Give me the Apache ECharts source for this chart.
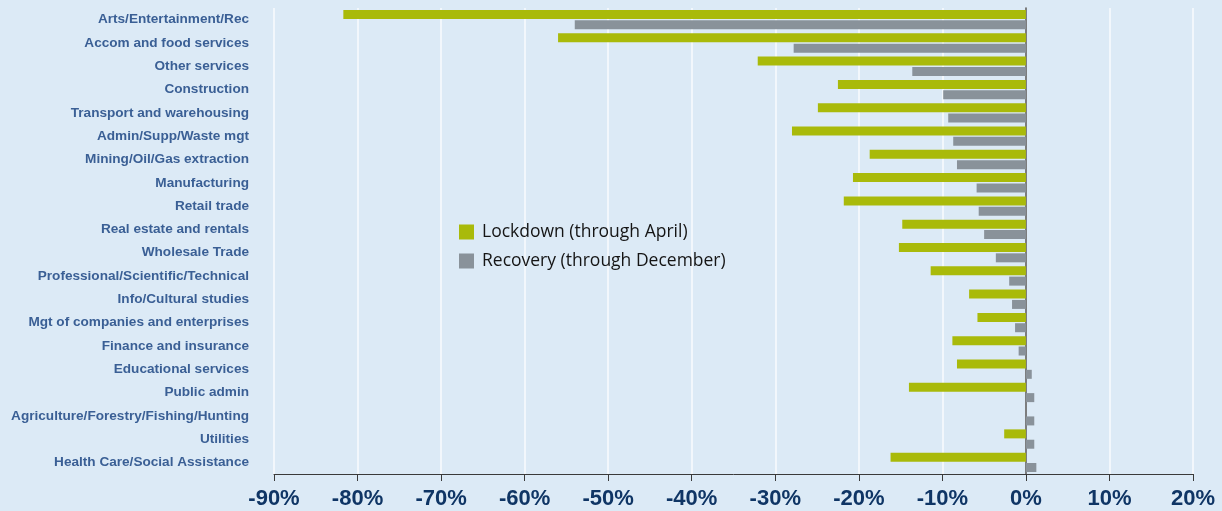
<!DOCTYPE html>
<html><head><meta charset="utf-8">
<script src="https://cdn.jsdelivr.net/npm/echarts@6/dist/echarts.min.js"></script>
<style>html,body{margin:0;padding:0;background:#dceaf6;}#c{width:1222px;height:511px;}</style>
</head><body><div id="c"></div>
<script>
const categories = ["Arts/Entertainment/Rec","Accom and food services","Other services","Construction","Transport and warehousing","Admin/Supp/Waste mgt","Mining/Oil/Gas extraction","Manufacturing","Retail trade","Real estate and rentals","Wholesale Trade","Professional/Scientific/Technical","Info/Cultural studies","Mgt of companies and enterprises","Finance and insurance","Educational services","Public admin","Agriculture/Forestry/Fishing/Hunting","Utilities","Health Care/Social Assistance"];
const lockdown = [-81.7,-56.0,-32.1,-22.5,-24.9,-28.0,-18.7,-20.7,-21.8,-14.8,-15.2,-11.4,-6.8,-5.8,-8.8,-8.25,-14.0,0,-2.6,-16.2];
const recovery = [-54.0,-27.8,-13.6,-9.9,-9.3,-8.7,-8.25,-5.9,-5.65,-5.0,-3.6,-2.0,-1.66,-1.3,-0.87,0.7,1.0,1.0,1.0,1.25];
const seriesNames = ["Lockdown (through April)","Recovery (through December)"];
const xTicks = {min:-90,max:20,interval:10};

const chart = echarts.init(document.getElementById('c'), null, {renderer:'canvas'});
chart.setOption({
  backgroundColor:'#dceaf6',
  animation:false,
  grid:{left:274,right:29,top:8,bottom:37,containLabel:false},
  legend:{
    data:seriesNames, orient:'vertical', left:459, top:223, padding:0,
    itemWidth:15, itemHeight:15, itemGap:11, icon:'rect',
    textStyle:{fontFamily:'Open Sans', fontSize:17.5, color:'#151515', padding:[0,0,0,3], lineHeight:15}
  },
  xAxis:{
    type:'value', min:xTicks.min, max:xTicks.max, interval:xTicks.interval,
    axisLine:{show:true,onZero:false,lineStyle:{color:'#3a3a3a',width:1}},
    axisTick:{show:true,length:7,lineStyle:{color:'#3a3a3a'}},
    axisLabel:{formatter:v=>v+'%', fontFamily:'Liberation Sans', fontWeight:'bold', fontSize:22, color:'#0f3565', margin:14},
    splitLine:{show:true,lineStyle:{color:'#f2f7fc',width:2}}
  },
  yAxis:{
    type:'category', data:categories, inverse:true,
    axisLine:{show:true,onZero:true,lineStyle:{color:'#555',width:1.5}},
    axisTick:{show:false},
    axisLabel:{fontFamily:'Liberation Sans', fontWeight:'bold', fontSize:13.6, color:'#3a5f95', margin:25, padding:[6,0,0,0]}
  },
  series:[
    {name:seriesNames[0], type:'bar', data:lockdown, barWidth:9, barGap:'15%', barCategoryGap:'18%', itemStyle:{color:'#a9ba0a'}},
    {name:seriesNames[1], type:'bar', data:recovery, barWidth:9, itemStyle:{color:'#89929a'}}
  ]
});
</script></body></html>
